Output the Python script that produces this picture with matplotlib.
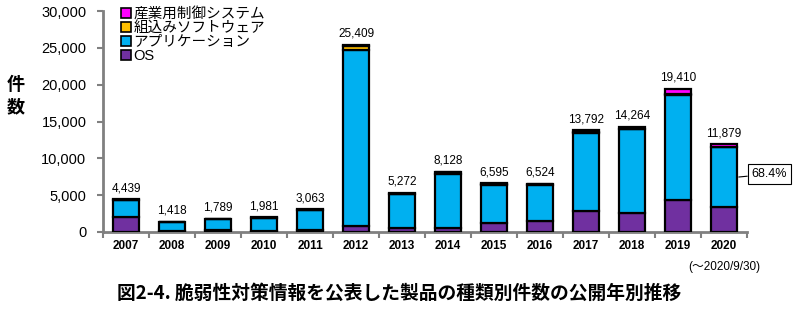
import numpy as np
import matplotlib
matplotlib.use("Agg")
import matplotlib.pyplot as plt
from matplotlib.lines import Line2D

plt.rcParams['font.family'] = ['Liberation Sans', 'Noto Sans CJK JP']

# 公開年別・種類別の件数
years = ['2007', '2008', '2009', '2010', '2011', '2012', '2013',
         '2014', '2015', '2016', '2017', '2018', '2019', '2020']
os_cnt = [2000, 100, 300, 150, 300, 800, 500, 500, 1200, 1500, 2900, 2600, 4300, 3400]
app_cnt = [2339, 1268, 1439, 1781, 2703, 23909, 4622, 7428, 5245, 4874, 10542, 11314, 14360, 8125]
emb_cnt = [50, 30, 30, 30, 40, 600, 100, 150, 100, 100, 200, 50, 50, 54]
ics_cnt = [50, 20, 20, 20, 20, 100, 50, 50, 50, 50, 150, 300, 700, 300]
totals = [4439, 1418, 1789, 1981, 3063, 25409, 5272, 8128, 6595, 6524, 13792, 14264, 19410, 11879]
app_share_2020 = '68.4%'

series = [
    ('OS', os_cnt, '#7030A0'),
    ('アプリケーション', app_cnt, '#00B0F0'),
    ('組込みソフトウェア', emb_cnt, '#FFC000'),
    ('産業用制御システム', ics_cnt, '#FF00FF'),
]

fig = plt.figure(figsize=(7.99, 3.24), dpi=100)
ax = fig.add_axes([0.129, 0.284, 0.806, 0.682])

x = np.arange(len(years))
bottom = np.zeros(len(years))
for name, vals, col in series:
    vals = np.array(vals, dtype=float)
    ax.bar(x, vals, width=0.57, bottom=bottom, color=col,
           edgecolor='black', linewidth=1.6, zorder=3)
    bottom += vals

for xi, t in zip(x, totals):
    ax.text(xi, t + 700, f'{t:,}', ha='center', va='bottom', fontsize=8.5)

ax.set_xlim(-0.5, len(years) - 0.5)
ax.set_ylim(0, 30000)
ax.set_yticks(np.arange(0, 30001, 5000))
ax.set_yticklabels([f'{v:,}' for v in range(0, 30001, 5000)], fontsize=10.5)
ax.set_xticks(x)
ax.set_xticklabels(years, fontsize=8.5, fontweight='semibold')
ax.set_xticks(np.arange(-0.5, len(years)), minor=True)
ax.tick_params(axis='x', which='major', length=0, pad=6)
ax.tick_params(axis='x', which='minor', length=4, width=1.5, color='#808080')
ax.tick_params(axis='y', length=4, width=1.5, color='#808080', pad=8)

for s in ['top', 'right']:
    ax.spines[s].set_visible(False)
for s in ['left', 'bottom']:
    ax.spines[s].set_color('#808080')
    ax.spines[s].set_linewidth(2)

ax.text(13, -4000, '(～2020/9/30)', ha='center', va='top', fontsize=8.5,
        family=['Liberation Sans', 'Noto Sans CJK JP'])

# 2020年のアプリケーション比率
mid = os_cnt[-1] + app_cnt[-1] / 2
ax.annotate(app_share_2020, xy=(13.32, mid), xytext=(13.98, mid + 400),
            ha='center', va='center', fontsize=9, annotation_clip=False,
            bbox=dict(boxstyle='square,pad=0.3', fc='white', ec='black', lw=0.8),
            arrowprops=dict(arrowstyle='-', color='black', lw=0.8,
                            shrinkA=0, shrinkB=0))

handles = [Line2D([], [], marker='s', linestyle='none', markersize=7,
                  markerfacecolor=col, markeredgecolor='black', markeredgewidth=1.2)
           for _, _, col in series[::-1]]
labels = [name for name, _, _ in series[::-1]]
fig.legend(handles, labels, loc='upper left', bbox_to_anchor=(0.138, 1.01),
           frameon=False, fontsize=10.5, handletextpad=0.1, labelspacing=0.0,
           handlelength=0.8, borderpad=0.2)

fig.text(0.02, 0.705, '件\n数', fontsize=13, fontweight='bold', ha='center',
         va='center', linespacing=1.2, family=['Noto Sans CJK JP'])

fig.text(0.5, 0.095, '図2-4. 脆弱性対策情報を公表した製品の種類別件数の公開年別推移',
         fontsize=13.5, fontweight='bold', ha='center', va='center',
         family=['Noto Sans CJK JP'])

fig.savefig('out.png', dpi=100)
